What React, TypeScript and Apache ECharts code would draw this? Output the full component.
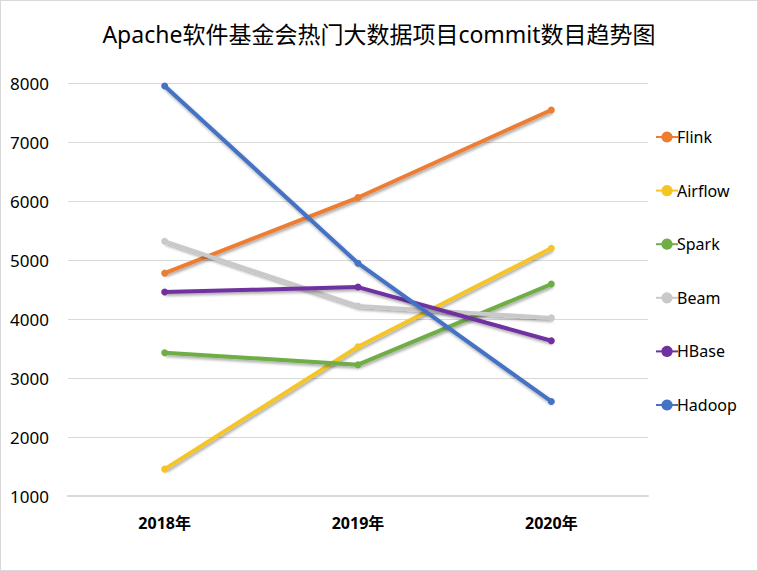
import React, { useEffect, useRef } from "react";
import * as echarts from "echarts";

const categories = ["2018年", "2019年", "2020年"];
const seriesNames = ["Flink", "Airflow", "Spark", "Beam", "HBase", "Hadoop"];
const flink = [4777, 6059, 7543];
const airflow = [1455, 3530, 5199];
const spark = [3428, 3226, 4592];
const beam = [5317, 4221, 4019];
const hbase = [4457, 4541, 3631];
const hadoop = [7948, 4946, 2602];
const colors = ["#ED7D31", "#F5C526", "#70AD47", "#C9C9C9", "#7030A0", "#4472C4"];
const yTicks = [1000, 2000, 3000, 4000, 5000, 6000, 7000, 8000];

const FONT = "'Noto Sans', 'Noto Sans CJK SC', sans-serif";

export default function App() {
  const ref = useRef<HTMLDivElement>(null);
  useEffect(() => {
    document.body.style.margin = "0";
    const chart = echarts.init(ref.current!, null, { renderer: "svg" });
    const values = [flink, airflow, spark, beam, hbase, hadoop];
    chart.setOption({
      animation: false,
      backgroundColor: "#ffffff",
      title: {
        text: "Apache软件基金会热门大数据项目commit数目趋势图",
        left: "center",
        top: 16,
        textStyle: { fontFamily: FONT, fontSize: 23, fontWeight: "normal", color: "#000" },
      },
      legend: {
        orient: "vertical",
        left: 654,
        top: 128,
        padding: 0,
        itemWidth: 22,
        itemHeight: 14,
        itemGap: 37.6,
        data: seriesNames,
        textStyle: { fontFamily: FONT, fontSize: 16, color: "#000", padding: [0, 0, 0, -6] },
      },
      grid: { left: 67, right: 109, top: 82, bottom: 74 },
      xAxis: {
        type: "category",
        data: categories,
        boundaryGap: true,
        axisLine: { lineStyle: { color: "#D9D9D9", width: 2 } },
        axisTick: { show: false },
        axisLabel: { fontFamily: FONT, fontSize: 16, fontWeight: "bold", color: "#000", margin: 19 },
      },
      yAxis: {
        type: "value",
        min: yTicks[0],
        max: yTicks[yTicks.length - 1],
        interval: 1000,
        axisLine: { show: false },
        axisTick: { show: false },
        splitLine: { lineStyle: { color: "#D9D9D9", width: 1 } },
        axisLabel: {
          fontFamily: FONT,
          fontSize: 17,
          color: "#000",
          margin: 19,
          formatter: (v: number) => String(v),
        },
      },
      series: seriesNames.map((name, i) => ({
        name,
        type: "line",
        data: values[i],
        symbol: "circle",
        symbolSize: 7,
        color: colors[i],
        lineStyle: {
          width: 4,
          color: colors[i],
          shadowColor: "rgba(0,0,0,0.35)",
          shadowBlur: 3,
          shadowOffsetX: 1,
          shadowOffsetY: 2,
        },
        itemStyle: { color: colors[i] },
      })),
    });
    return () => chart.dispose();
  }, []);
  return (
    <div
      ref={ref}
      style={{ width: 758, height: 571, boxSizing: "border-box", border: "1px solid #D9D9D9" }}
    />
  );
}
